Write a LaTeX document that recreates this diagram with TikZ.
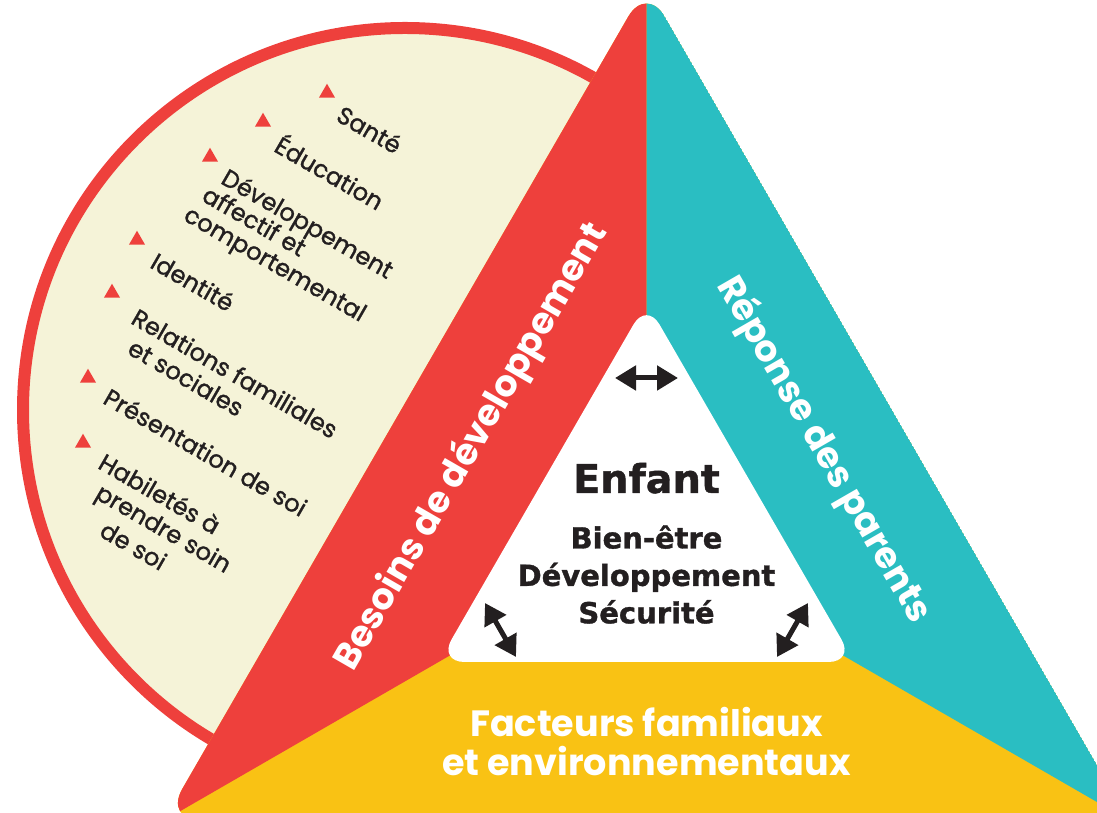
\documentclass[tikz,border=0pt]{standalone}
\usepackage{fontspec}
\setmainfont{Poppins}
\newfontfamily\listefont[FakeBold=1.3]{Poppins}
\newfontfamily\enfantfont[BoldFeatures={FakeBold=1.2}]{DejaVu Sans}
\usetikzlibrary{arrows.meta,shapes.geometric,calc}
\definecolor{rouge}{HTML}{EE403C}
\definecolor{turquoise}{HTML}{2ABEC2}
\definecolor{jaune}{HTML}{F9C214}
\definecolor{beige}{HTML}{F5F3D8}
\definecolor{encre}{HTML}{231F20}
\begin{document}
\begin{tikzpicture}[
    bande/.style={text=white, font=\bfseries\fontsize{20.8}{22}\selectfont, align=center},
    ligne/.style={anchor=base west, inner sep=0pt, rotate=-30, text=encre, font=\listefont\fontsize{13.7}{15}\selectfont},
    puce/.style={regular polygon, regular polygon sides=3, fill=rouge, inner sep=0pt, minimum size=0.37cm},
    fleche/.style={{Triangle[length=0.42cm,width=0.48cm]}-{Triangle[length=0.42cm,width=0.48cm]}, line width=0.1cm, draw=encre}
]
    \useasboundingbox (0,0) rectangle (21.94,16.26);
    \clip (0,0) rectangle (21.94,16.26);

    % Cercle des besoins
    \draw[draw=rouge, fill=beige, line width=0.24cm] (8.10,8.06) circle (7.64cm);

    % Grand triangle
    \coordinate (ctr) at (12.93,5.42);
    \coordinate (oA) at (12.93,16.56);
    \coordinate (oL) at (3.28,-0.15);
    \coordinate (oR) at (22.58,-0.15);
    \coordinate (iA) at (12.93,10.22);
    \coordinate (iL) at (8.77,3.02);
    \coordinate (iR) at (17.09,3.02);
    \begin{scope}
        \clip[rounded corners=0.73cm] (oA) -- (oR) -- (oL) -- cycle;
        \fill[jaune] (oA) -- (oR) -- (oL) -- cycle;
        \fill[rouge] (ctr) -- (oA) -- (oL) -- cycle;
        \fill[turquoise] (ctr) -- (oR) -- (oA) -- cycle;
    \end{scope}
    \fill[white, rounded corners=0.52cm] (iA) -- (iR) -- (iL) -- cycle;

    % Les trois cotes
    \node[bande, rotate=60] (besoins) at (9.43,7.32) {Besoins de développement};
    \node[bande, rotate=-60] (reponse) at (16.47,7.26) {Réponse des parents};
    \node[bande] (facteurs) at (12.93,1.43) {Facteurs familiaux\\et environnementaux};

    % Enfant au centre
    \node[font=\enfantfont\bfseries\fontsize{22.6}{26}\selectfont, text=encre, anchor=base] (enfant) at (12.93,6.40) {Enfant};
    \node[font=\enfantfont\bfseries\fontsize{16.5}{21.3}\selectfont, text=encre, align=center] (bienetre) at (12.93,4.77) {Bien-être\\Développement\\Sécurité};

    % Fleches
    \coordinate (h1) at (12.30,8.70);
    \coordinate (h2) at (13.56,8.70);
    \coordinate (g1) at (9.70,4.20);
    \coordinate (g2) at (10.32,3.12);
    \coordinate (d1) at (16.16,4.20);
    \coordinate (d2) at (15.54,3.12);
    \draw[fleche] (h1) -- (h2);
    \draw[fleche] (g1) -- (g2);
    \draw[fleche] (d1) -- (d2);

    % Liste des besoins
    \foreach \x/\y [count=\i] in {6.54/14.40, 5.26/13.82, 4.20/13.12, 2.74/11.46, 2.24/10.40, 1.76/8.70, 1.66/7.40}
        \node[puce] (puce\i) at (\x,\y) {};
    \foreach \i/\dx/\dy/\ligne [count=\k] in {
        1/0.40/-0.39/Santé,
        2/0.45/-0.40/Éducation,
        3/0.42/-0.35/Développement,
        3/0.26/-0.84/affectif et,
        3/0.14/-1.36/comportemental,
        4/0.47/-0.35/Identité,
        5/0.60/-0.34/Relations familiales,
        5/0.84/-0.90/et sociales,
        6/0.48/-0.29/Présentation de soi,
        7/0.48/-0.29/Habiletés à,
        7/0.73/-0.84/prendre soin,
        7/1.18/-1.45/de soi}
        \node[ligne] (ligne\k) at ($(puce\i)+(-30:\dx)+(60:\dy)$) {\ligne};
\end{tikzpicture}
\end{document}
